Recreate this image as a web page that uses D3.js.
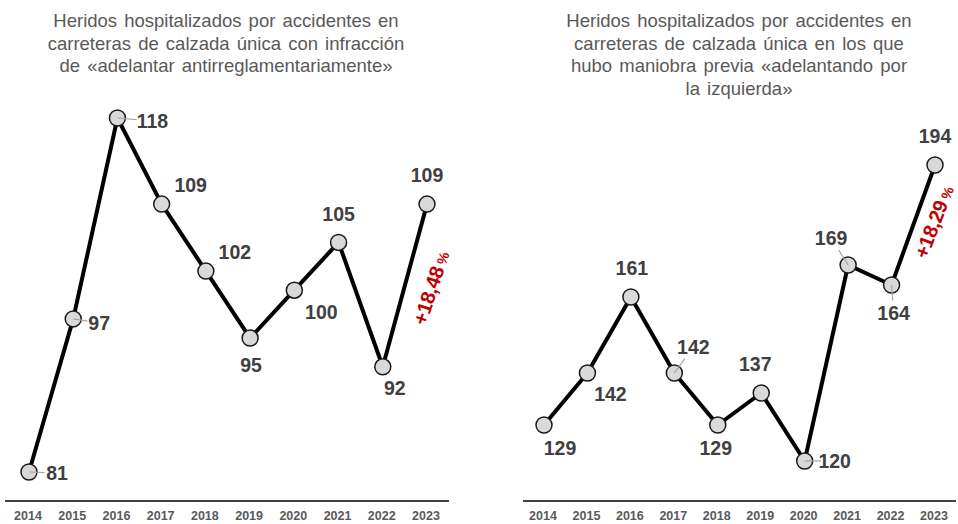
<!DOCTYPE html>
<html>
<head>
  <meta charset="UTF-8">
  <script src="https://cdn.jsdelivr.net/npm/d3@7"></script>
  <style>
    body { margin: 0; background: #fff; }
    text { font-family: "Liberation Sans", Arial, sans-serif; }
  </style>
</head>
<body>
<div id="chart"></div>
<script>
  // data
  var years = [2014, 2015, 2016, 2017, 2018, 2019, 2020, 2021, 2022, 2023];
  var adelantarAntirreg = [81, 97, 118, 109, 102, 95, 100, 105, 92, 109];
  var adelantandoIzq = [129, 142, 161, 142, 129, 137, 120, 169, 164, 194];
  var titleLeft = ["Heridos hospitalizados por accidentes en",
                   "carreteras de calzada única con infracción",
                   "de «adelantar  antirreglamentariamente»"];
  var titleRight = ["Heridos hospitalizados por accidentes en",
                    "carreteras de calzada única en los que",
                    "hubo maniobra previa «adelantando por",
                    "la izquierda»"];
  var changeLeft = "+18,48";
  var changeRight = "+18,29";

  // label offsets from each point [dx, dy, leader?]
  var offsLeft = [[28, 1, 1], [26, 4, 1], [35, 3, 1], [29, -19, 0], [29, -19, 0],
                  [1, 27, 0], [27, 22, 0], [0, -28, 0], [12, 21, 0], [0, -29, 0]];
  var offsRight = [[16, 23, 0], [23, 21, 0], [1, -29, 0], [19, -26, 1], [-2, 23, 0],
                   [-6, -29, 0], [30, 0, 1], [-17, -27, 1], [2, 28, 1], [0, -29, 0]];

  var W = 958, H = 524;
  var svg = d3.select('#chart').append('svg')
      .attr('width', W)
      .attr('height', H);

  function leaders(g, pts, offs) {
    g.selectAll(null).data(pts.filter(function(p, i){ return offs[i][2]; }))
      .enter().append('line')
      .attr('x1', function(d){ return d[0]; })
      .attr('y1', function(d){ return d[1]; })
      .attr('x2', function(d){ return d[0] + offs[pts.indexOf(d)][0] * 0.55; })
      .attr('y2', function(d){ return d[1] + offs[pts.indexOf(d)][1] * 0.55; })
      .style('stroke', '#a6a6a6').style('stroke-width', 1.2);
  }

  function panel(cfg) {
    var g = svg.append('g');
    var x = d3.scaleLinear().domain([2014, 2023]).range(cfg.xr);
    var y = d3.scaleLinear().domain(cfg.yd).range(cfg.yr);

    // title
    g.append('text')
      .attr('x', cfg.tx).attr('y', 27)
      .attr('text-anchor', 'middle')
      .style('font-size', '18.5px').style('fill', '#595959')
      .style('word-spacing', '2px')
      .selectAll('tspan').data(cfg.title).enter().append('tspan')
      .attr('x', cfg.tx)
      .attr('dy', function(d, i){ return i ? 22.5 : 0; })
      .text(function(d){ return d; });

    // baseline + year labels
    g.append('line')
      .attr('x1', cfg.ax[0]).attr('x2', cfg.ax[1])
      .attr('y1', 501).attr('y2', 501)
      .style('stroke', '#000').style('stroke-width', 1.5);
    g.selectAll('text.yr').data(years).enter().append('text')
      .attr('class', 'yr')
      .attr('x', function(d){ return x(d) - 1; })
      .attr('y', 520)
      .attr('text-anchor', 'middle')
      .style('font-size', '12.5px').style('font-weight', 'bold').style('fill', '#595959')
      .text(function(d){ return d; });

    var pts = years.map(function(yr, i){ return [x(yr), y(cfg.values[i])]; });

    g.append('path')
      .datum(pts)
      .attr('d', d3.line())
      .style('fill', 'none').style('stroke', '#000').style('stroke-width', 4)
      .style('stroke-linejoin', 'round');

    g.selectAll('circle').data(pts).enter().append('circle')
      .attr('cx', function(d){ return d[0]; })
      .attr('cy', function(d){ return d[1]; })
      .attr('r', 8)
      .style('fill', '#d9d9d9').style('stroke', '#1a1a1a').style('stroke-width', 1.5);

    leaders(g, pts, cfg.offs);

    // value labels
    g.selectAll('text.val').data(cfg.values).enter().append('text')
      .attr('class', 'val')
      .attr('x', function(d, i){ return pts[i][0] + cfg.offs[i][0]; })
      .attr('y', function(d, i){ return pts[i][1] + cfg.offs[i][1]; })
      .attr('dy', '0.35em')
      .attr('text-anchor', 'middle')
      .style('font-size', '19.5px').style('font-weight', 'bold').style('fill', '#404040')
      .text(function(d){ return d; });

    // change label along last segment
    var a = pts[8], b = pts[9];
    var ang = Math.atan2(b[1] - a[1], b[0] - a[0]) * 180 / Math.PI;
    var t = g.append('text')
      .attr('transform', 'translate(' + cfg.cp[0] + ',' + cfg.cp[1] + ') rotate(' + (ang + cfg.rot) + ')')
      .attr('text-anchor', 'middle')
      .attr('dy', '0.35em')
      .style('font-size', '20px').style('font-weight', 'bold').style('fill', '#c00000')
      .style('letter-spacing', '-0.3px');
    t.append('tspan').text(cfg.change);
    t.append('tspan').style('font-size', '14px').text(' %');
  }

  panel({values: adelantarAntirreg, title: titleLeft, tx: 226,
         xr: [29, 427], yd: [81, 118], yr: [472, 118], ax: [5, 449],
         offs: offsLeft, change: changeLeft, cp: [431, 288], rot: 3});
  panel({values: adelantandoIzq, title: titleRight, tx: 739,
         xr: [544, 935], yd: [120, 194], yr: [461, 165], ax: [523, 956],
         offs: offsRight, change: changeRight, cp: [934, 222], rot: 1});
</script>
</body>
</html>
